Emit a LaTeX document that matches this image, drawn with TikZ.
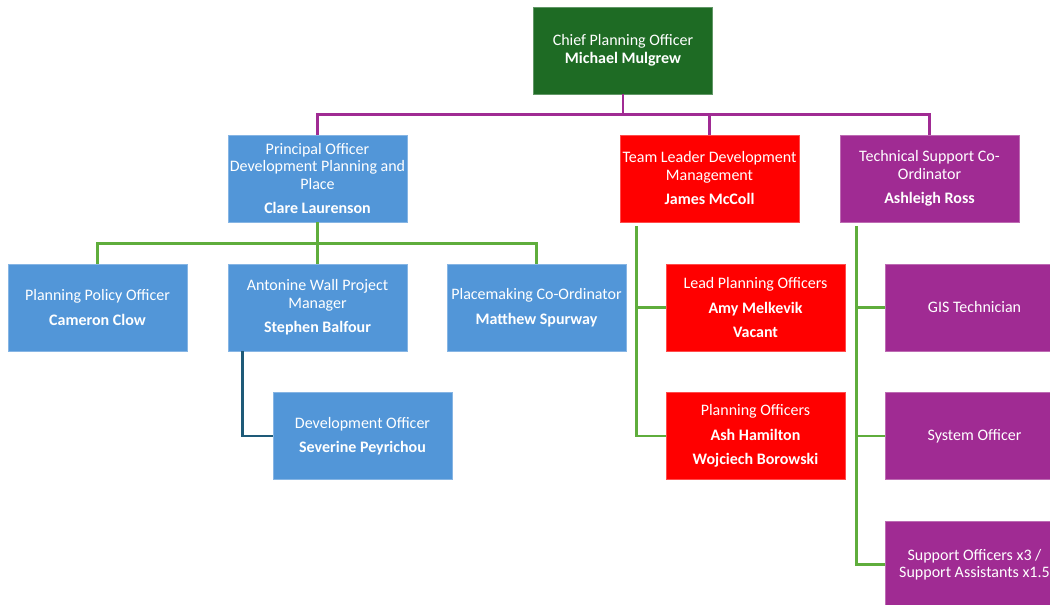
\documentclass[tikz,border=0pt]{standalone}
\usepackage{fontspec}
\setmainfont{Carlito}
\definecolor{chiefg}{RGB}{30,107,36}
\definecolor{boxblue}{RGB}{82,150,216}
\definecolor{boxred}{RGB}{255,0,0}
\definecolor{boxpurple}{RGB}{160,43,147}
\definecolor{lgreen}{RGB}{95,173,60}
\definecolor{lpurple}{RGB}{160,43,147}
\definecolor{lteal}{RGB}{30,90,120}
\begin{document}
\begin{tikzpicture}[x=1pt,y=-1pt,
  card/.style={rectangle, minimum width=179pt, minimum height=87pt, inner sep=0pt,
    align=center, text=white, font=\fontsize{16}{17.5}\selectfont, line width=0.8pt},
  chiefbox/.style={card, fill=chiefg, draw=chiefg!70!white},
  bluebox/.style={card, fill=boxblue, draw=boxblue!70!white},
  redbox/.style={card, fill=boxred, draw=boxred!70!white},
  purplebox/.style={card, fill=boxpurple, draw=boxpurple!70!white},
  gline/.style={draw=lgreen, line width=2.4pt},
  pline/.style={draw=lpurple, line width=2.4pt},
  tline/.style={draw=lteal, line width=2.4pt}]
\useasboundingbox (0,0) rectangle (1050,605);
\clip (0,0) rectangle (1050,605);
\fill[white] (0,0) rectangle (1050,605);

\node[chiefbox] (chief) at (623,50.5) {Chief Planning Officer\\\textbf{Michael Mulgrew}};
\node[bluebox] (princ) at (317.5,178.5) {Principal Officer\\Development Planning and\\Place\\[7pt]\textbf{Clare Laurenson}};
\node[redbox] (team) at (709.5,178.5) {Team Leader Development\\Management\\[7pt]\textbf{James McColl}};
\node[purplebox] (tech) at (929.5,178.5) {Technical Support Co-\\Ordinator\\[7pt]\textbf{Ashleigh Ross}};

\node[bluebox] (ppo) at (97.5,307.5) {Planning Policy Officer\\[7pt]\textbf{Cameron Clow}};
\node[bluebox] (anton) at (317.5,307.5) {Antonine Wall Project\\Manager\\[7pt]\textbf{Stephen Balfour}};
\node[bluebox] (place) at (536.5,307.5) {Placemaking Co-Ordinator\\[7pt]\textbf{Matthew Spurway}};
\node[bluebox] (devoff) at (362.5,436) {Development Officer\\[7pt]\textbf{Severine Peyrichou}};

\node[redbox] (lead) at (755.5,307.5) {Lead Planning Officers\\[7pt]\textbf{Amy Melkevik}\\[7pt]\textbf{Vacant}};
\node[redbox] (planoff) at (755.5,436) {Planning Officers\\[7pt]\textbf{Ash Hamilton}\\[7pt]\textbf{Wojciech Borowski}};

\node[purplebox] (gis) at (974.5,307.5) {GIS Technician};
\node[purplebox] (sys) at (974.5,436) {System Officer};
\node[purplebox] (supp) at (974.5,564.5) {Support Officers x3 /\\Support Assistants x1.5};

% top level
\draw[pline] (chief.south) -- ++(0,20) -| (princ.north);
\draw[pline] (chief.south) -- ++(0,20) -| (team.north);
\draw[pline] (chief.south) -- ++(0,20) -| (tech.north);

% principal
\draw[gline] (princ.south) -- ++(0,21) -| (ppo.north);
\draw[gline] (princ.south) -- (anton.north);
\draw[gline] (princ.south) -- ++(0,21) -| (place.north);

% antonine
\draw[tline] ([xshift=15pt]anton.south west) |- (devoff.west);

% team leader
\draw[gline] ([xshift=17pt,yshift=-4pt]team.south west) |- (lead.west);
\draw[gline] ([xshift=17pt,yshift=-4pt]team.south west) |- (planoff.west);

% technical
\draw[gline] ([xshift=17pt,yshift=-4pt]tech.south west) |- (gis.west);
\draw[gline] ([xshift=17pt,yshift=-4pt]tech.south west) |- (sys.west);
\draw[gline] ([xshift=17pt,yshift=-4pt]tech.south west) |- (supp.west);
\end{tikzpicture}
\end{document}
